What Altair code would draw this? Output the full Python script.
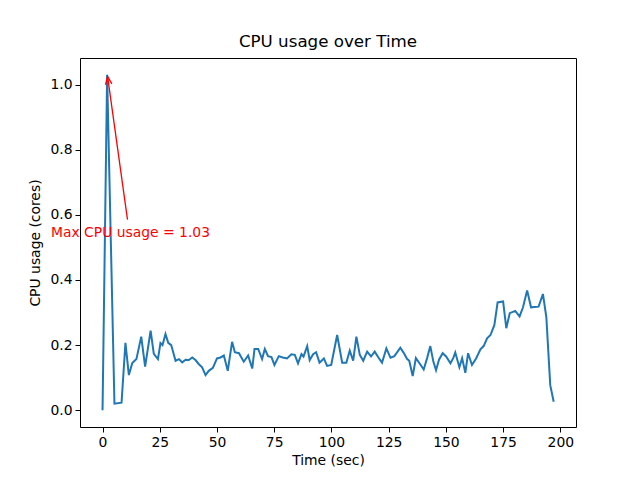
import altair as alt
import pandas as pd

# ---- data ----
time_sec = [0, 2, 5.2, 8.3, 10.0, 11.5, 13, 14.8, 16.9, 18.6, 21, 22.4, 24.2, 25.3, 26.2,
            27.5, 28.7, 30, 31.9, 33.4, 34.8, 36.3, 37.7, 39.2, 40.6, 42, 43.5, 45, 46.4,
            48.2, 50, 51.5, 53, 54.7, 56.6, 57.8, 59.6, 61.7, 63.6, 65.4, 66.4, 68, 69.7,
            70.9, 72.3, 73.8, 75.1, 77, 78.7, 80.6, 82.5, 84, 85.4, 86.9, 87.8, 89.4, 90.5,
            92, 93.3, 94.8, 96.7, 98.1, 99.9, 102.5, 104.7, 106.5, 108, 109.5, 110.9, 112.4,
            113.9, 115.6, 117.3, 118.9, 120.6, 122.1, 124, 125.8, 127.5, 130.1, 131.5, 133,
            134, 135.5, 136.9, 138.4, 140.3, 141.8, 143.2, 144.5, 145.7, 147, 148.6, 150.1,
            152, 153.2, 154.1, 155.9, 157.1, 158.5, 159.7, 161.4, 163.2, 165.1, 166.5, 168,
            169.5, 171.2, 172.6, 175, 176.4, 177.9, 180.3, 182.2, 183.7, 185.5, 187.2, 190.5,
            192.4, 193.9, 195.6, 197.1]
cpu_cores = [0.0, 1.03, 0.02, 0.023, 0.207, 0.108, 0.145, 0.157, 0.226, 0.134, 0.244, 0.173,
             0.157, 0.206, 0.2, 0.234, 0.207, 0.2, 0.152, 0.157, 0.147, 0.155, 0.154, 0.162,
             0.154, 0.142, 0.132, 0.108, 0.121, 0.13, 0.159, 0.162, 0.168, 0.121, 0.21, 0.178,
             0.175, 0.149, 0.168, 0.128, 0.188, 0.188, 0.157, 0.188, 0.166, 0.163, 0.139,
             0.166, 0.162, 0.159, 0.172, 0.17, 0.144, 0.172, 0.165, 0.197, 0.154, 0.172,
             0.178, 0.146, 0.159, 0.136, 0.139, 0.231, 0.146, 0.146, 0.183, 0.152, 0.226,
             0.17, 0.152, 0.18, 0.165, 0.18, 0.161, 0.146, 0.19, 0.161, 0.166, 0.192, 0.177,
             0.158, 0.152, 0.105, 0.16, 0.145, 0.125, 0.16, 0.197, 0.15, 0.123, 0.155, 0.175,
             0.165, 0.144, 0.16, 0.177, 0.132, 0.16, 0.115, 0.175, 0.139, 0.159, 0.187,
             0.197, 0.221, 0.231, 0.262, 0.331, 0.334, 0.252, 0.298, 0.305, 0.288, 0.316,
             0.368, 0.316, 0.318, 0.357, 0.285, 0.077, 0.026]

x_ticks = [0, 25, 50, 75, 100, 125, 150, 175, 200]
y_ticks = [0.0, 0.2, 0.4, 0.6, 0.8, 1.0]

title_text = "CPU usage over Time"
x_title = "Time (sec)"
y_title = "CPU usage (cores)"

n = min(len(time_sec), len(cpu_cores))
df = pd.DataFrame({"t": time_sec[:n], "cpu": cpu_cores[:n]})

imax = max(range(n), key=lambda i: cpu_cores[i])
max_t, max_v = time_sec[imax], cpu_cores[imax]

# annotation placement (data coordinates)
label_t, label_v = 12.2, 0.543
tail_t, tail_v = 10.9, 0.585
head_t, head_v = max_t + 0.2, max_v - 0.005

ann_df = pd.DataFrame({"t": [tail_t], "v": [tail_v], "t2": [head_t], "v2": [head_v]})
head_df = pd.DataFrame({"t": [head_t], "v": [head_v]})
text_df = pd.DataFrame({"t": [label_t], "v": [label_v],
                        "label": [f"Max CPU usage = {max_v:.2f}"]})

FONT = "DejaVu Sans"
xs = alt.Scale(domain=[-9.85, 206.85], nice=False, zero=False)
ys = alt.Scale(domain=[-0.0515, 1.0815], nice=False, zero=False)

line = alt.Chart(df).mark_line(color="#1f77b4", strokeWidth=2).encode(
    x=alt.X("t:Q", scale=xs, title=x_title,
            axis=alt.Axis(values=x_ticks, format="d")),
    y=alt.Y("cpu:Q", scale=ys, title=y_title,
            axis=alt.Axis(values=y_ticks, format=".1f", titlePadding=7)),
)

arrow = alt.Chart(ann_df).mark_rule(color="red", strokeWidth=1.3).encode(
    x="t:Q", y="v:Q", x2="t2:Q", y2="v2:Q")

head = alt.Chart(head_df).mark_point(
    shape="M -0.4 1 L 0 0 L 0.4 1", filled=False, color="red",
    strokeWidth=1.3, size=256, angle=352, opacity=1).encode(x="t:Q", y="v:Q")

label = alt.Chart(text_df).mark_text(
    color="red", fontSize=13.9, font=FONT, align="center", baseline="middle").encode(
    x="t:Q", y="v:Q", text="label:N")

chart = alt.layer(line, arrow, head, label).properties(
    width=496, height=369,
    title=alt.TitleParams(title_text, fontSize=16.7, font=FONT, fontWeight="normal",
                          offset=7, color="black"),
    autosize=alt.AutoSizeParams(type="none"),
    padding={"left": 72, "top": 50, "right": 56, "bottom": 45},
).configure_view(
    stroke="black", strokeWidth=1
).configure_axis(
    grid=False, domain=False, tickColor="black", tickSize=5, tickWidth=1,
    labelFont=FONT, labelFontSize=13.9, labelColor="black", labelPadding=3,
    titleFont=FONT, titleFontSize=13.9, titleFontWeight="normal", titleColor="black",
    titlePadding=5,
)

chart.save("out.html", embed_options={"renderer": "svg", "actions": False})
